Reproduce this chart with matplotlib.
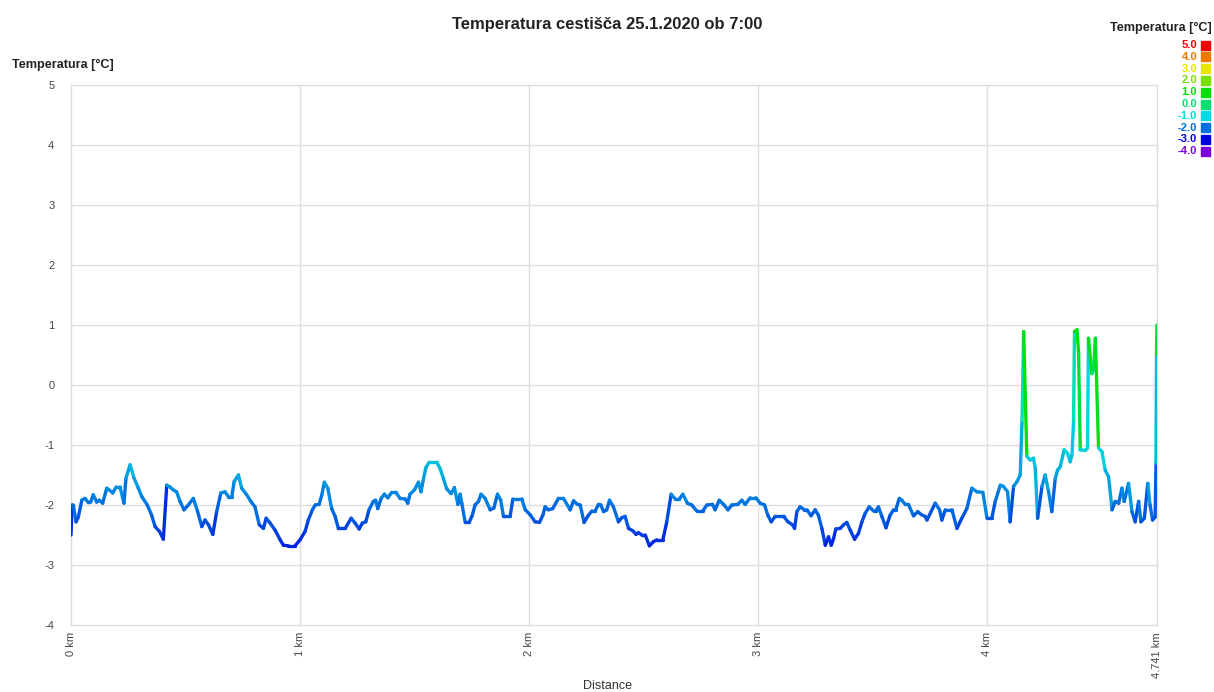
import numpy as np
import matplotlib.pyplot as plt
from matplotlib.collections import LineCollection
from matplotlib.colors import LinearSegmentedColormap, Normalize
from matplotlib.patches import Rectangle

plt.rcParams['font.family'] = ['Liberation Sans', 'DejaVu Sans']
plt.rcParams['axes.unicode_minus'] = False

# road surface temperature along the route
dist_km = [
    0.000, 0.005, 0.010, 0.022, 0.032, 0.047, 0.061, 0.076, 0.086, 0.097,
    0.112, 0.124, 0.138, 0.156, 0.167, 0.182, 0.197, 0.214, 0.231, 0.240,
    0.258, 0.275, 0.294, 0.309, 0.333, 0.352, 0.367, 0.386, 0.403, 0.418,
    0.432, 0.447, 0.461, 0.476, 0.493, 0.512, 0.534, 0.552, 0.571, 0.585,
    0.600, 0.619, 0.636, 0.654, 0.672, 0.687, 0.702, 0.712, 0.731, 0.745,
    0.767, 0.785, 0.803, 0.822, 0.840, 0.852, 0.869, 0.891, 0.913, 0.927,
    0.949, 0.978, 1.000, 1.022, 1.036, 1.054, 1.066, 1.083, 1.095, 1.106,
    1.121, 1.138, 1.153, 1.167, 1.197, 1.223, 1.240, 1.258, 1.272, 1.287,
    1.301, 1.320, 1.330, 1.339, 1.354, 1.368, 1.383, 1.400, 1.418, 1.437,
    1.459, 1.470, 1.480, 1.499, 1.517, 1.528, 1.539, 1.549, 1.563, 1.597,
    1.611, 1.626, 1.640, 1.659, 1.674, 1.689, 1.699, 1.706, 1.721, 1.738,
    1.752, 1.764, 1.779, 1.790, 1.808, 1.830, 1.846, 1.862, 1.876, 1.888,
    1.917, 1.929, 1.968, 1.983, 2.004, 2.026, 2.045, 2.060, 2.070, 2.084,
    2.103, 2.128, 2.150, 2.179, 2.194, 2.211, 2.223, 2.240, 2.259, 2.274,
    2.288, 2.303, 2.313, 2.325, 2.339, 2.351, 2.368, 2.390, 2.405, 2.419,
    2.434, 2.453, 2.467, 2.477, 2.492, 2.507, 2.525, 2.543, 2.558, 2.584,
    2.601, 2.620, 2.638, 2.656, 2.671, 2.691, 2.710, 2.732, 2.758, 2.776,
    2.801, 2.812, 2.830, 2.849, 2.868, 2.885, 2.911, 2.929, 2.943, 2.965,
    2.990, 3.009, 3.028, 3.042, 3.057, 3.074, 3.111, 3.130, 3.150, 3.159,
    3.169, 3.183, 3.202, 3.213, 3.231, 3.249, 3.263, 3.278, 3.293, 3.307,
    3.319, 3.329, 3.339, 3.358, 3.373, 3.387, 3.402, 3.421, 3.438, 3.453,
    3.467, 3.485, 3.504, 3.514, 3.525, 3.540, 3.558, 3.576, 3.591, 3.601,
    3.616, 3.627, 3.642, 3.656, 3.678, 3.697, 3.712, 3.729, 3.737, 3.773,
    3.792, 3.802, 3.817, 3.846, 3.868, 3.889, 3.911, 3.933, 3.955, 3.981,
    3.999, 4.020, 4.035, 4.057, 4.071, 4.089, 4.100, 4.115, 4.130, 4.144,
    4.152, 4.159, 4.173, 4.188, 4.202, 4.210, 4.220, 4.239, 4.253, 4.268,
    4.282, 4.297, 4.307, 4.319, 4.336, 4.351, 4.362, 4.370, 4.377, 4.381,
    4.392, 4.399, 4.406, 4.428, 4.438, 4.442, 4.457, 4.464, 4.472, 4.486,
    4.501, 4.515, 4.530, 4.545, 4.559, 4.574, 4.588, 4.598, 4.617, 4.632,
    4.646, 4.661, 4.671, 4.686, 4.701, 4.711, 4.722, 4.733, 4.737, 4.739,
    4.741,
]
temp_c = [
    -2.50, -2.00, -2.00, -2.28, -2.20, -1.92, -1.89, -1.96, -1.95, -1.83,
    -1.95, -1.92, -1.97, -1.72, -1.75, -1.80, -1.70, -1.70, -1.97, -1.55,
    -1.33, -1.55, -1.72, -1.86, -2.00, -2.17, -2.36, -2.44, -2.57, -1.67,
    -1.70, -1.75, -1.78, -1.94, -2.08, -2.00, -1.89, -2.10, -2.36, -2.25,
    -2.33, -2.49, -2.11, -1.80, -1.78, -1.86, -1.86, -1.61, -1.50, -1.72,
    -1.83, -1.94, -2.03, -2.33, -2.39, -2.22, -2.30, -2.42, -2.58, -2.67,
    -2.68, -2.68, -2.58, -2.44, -2.25, -2.08, -2.00, -1.99, -1.83, -1.62,
    -1.72, -2.06, -2.19, -2.39, -2.39, -2.22, -2.30, -2.40, -2.30, -2.28,
    -2.08, -1.94, -1.92, -2.06, -1.89, -1.82, -1.88, -1.79, -1.79, -1.89,
    -1.90, -1.97, -1.82, -1.75, -1.62, -1.78, -1.56, -1.38, -1.29, -1.29,
    -1.39, -1.56, -1.73, -1.81, -1.71, -1.99, -1.82, -1.97, -2.29, -2.29,
    -2.17, -2.00, -1.94, -1.82, -1.89, -2.08, -2.05, -1.82, -1.92, -2.19,
    -2.19, -1.90, -1.90, -2.08, -2.16, -2.28, -2.29, -2.17, -2.03, -2.08,
    -2.06, -1.89, -1.89, -2.08, -1.93, -1.99, -2.00, -2.29, -2.17, -2.10,
    -2.10, -1.99, -2.00, -2.11, -2.08, -1.92, -2.03, -2.28, -2.21, -2.19,
    -2.39, -2.43, -2.49, -2.46, -2.50, -2.50, -2.68, -2.61, -2.58, -2.58,
    -2.28, -1.82, -1.90, -1.90, -1.82, -1.97, -2.00, -2.10, -2.10, -2.00,
    -1.99, -2.08, -1.92, -1.99, -2.08, -2.00, -1.99, -1.92, -1.99, -1.88,
    -1.88, -1.97, -2.00, -2.17, -2.28, -2.19, -2.19, -2.28, -2.33, -2.39,
    -2.11, -2.03, -2.08, -2.08, -2.18, -2.08, -2.17, -2.39, -2.67, -2.53,
    -2.67, -2.56, -2.40, -2.39, -2.33, -2.29, -2.42, -2.57, -2.47, -2.28,
    -2.14, -2.03, -2.10, -2.10, -2.03, -2.19, -2.38, -2.17, -2.08, -2.08,
    -1.89, -1.92, -1.99, -1.99, -2.18, -2.11, -2.16, -2.19, -2.25, -1.97,
    -2.08, -2.25, -2.08, -2.08, -2.39, -2.22, -2.06, -1.72, -1.78, -1.79,
    -2.22, -2.22, -1.94, -1.67, -1.69, -1.78, -2.28, -1.69, -1.61, -1.50,
    -0.60, 0.89, -1.19, -1.25, -1.22, -1.39, -2.22, -1.69, -1.50, -1.78,
    -2.11, -1.56, -1.42, -1.36, -1.08, -1.14, -1.28, -1.17, -0.60, 0.89,
    0.92, 0.53, -1.08, -1.09, -1.05, 0.78, 0.19, 0.25, 0.78, -1.05,
    -1.11, -1.42, -1.53, -2.08, -1.94, -1.97, -1.72, -1.94, -1.64, -2.11,
    -2.28, -1.94, -2.28, -2.22, -1.64, -2.00, -2.25, -2.20, -1.30, 0.50,
    1.00,
]

# colour scale (legend on the right)
scale_values = [5.0, 4.0, 3.0, 2.0, 1.0, 0.0, -1.0, -2.0, -3.0, -4.0]
scale_colors = ['#f00000', '#f07800', '#e6e600', '#7ae000', '#00e000',
                '#00e070', '#00dde0', '#0070e0', '#0000e0', '#7a00e0']

x_ticks = [0, 1, 2, 3, 4, 4.741]
x_labels = ['0 km', '1 km', '2 km', '3 km', '4 km', '4.741 km']
y_ticks = list(range(-4, 6))

cmap = LinearSegmentedColormap.from_list(
    'temp', [((v + 4) / 9, c) for v, c in sorted(zip(scale_values, scale_colors))])
norm = Normalize(-4, 5)

fig = plt.figure(figsize=(12.14, 6.92), dpi=100)
ax = fig.add_axes([0.0585, 0.0968, 0.8945, 0.7804])

x = np.array(dist_km)
y = np.array(temp_c)
pts = np.column_stack([x, y]).reshape(-1, 1, 2)
segs = np.concatenate([pts[:-1], pts[1:]], axis=1)
lc = LineCollection(segs, colors=cmap(norm(y[:-1])), linewidths=2.4,
                    capstyle='round', joinstyle='round', zorder=3)
ax.add_collection(lc)

ax.set_xlim(0, 4.741)
ax.set_ylim(-4, 5)
ax.set_xticks(x_ticks)
ax.set_xticklabels(x_labels, rotation=90, va='top', ha='center')
ax.set_yticks(y_ticks)
ax.tick_params(axis='both', length=0, labelsize=8, colors='#444444')
ax.tick_params(axis='y', pad=12)
ax.tick_params(axis='x', pad=5)
ax.grid(True, color='#dddddd', linewidth=1)
for gl in ax.get_xgridlines() + ax.get_ygridlines():
    gl.set_clip_on(False)
for s in ax.spines.values():
    s.set_visible(False)

fig.text(0.5, 0.964, 'Temperatura cestišča 25.1.2020 ob 7:00', ha='center',
         va='center', fontsize=12, fontweight='bold', color='#222222')
fig.text(0.01, 1 - 65 / 692, 'Temperatura [°C]', ha='left', va='center',
         fontsize=9.1, fontweight='bold', color='#222222')
fig.text(0.5, 0.009, 'Distance', ha='center', va='center', fontsize=9,
         color='#333333')

# legend
fig.text(0.998, 1 - 28 / 692, 'Temperatura [°C]', ha='right', va='center',
         fontsize=9.1, fontweight='bold', color='#222222')
for i, (v, c) in enumerate(zip(scale_values, scale_colors)):
    yc = 1 - (45 + i * 11.8) / 692
    fig.text(1197 / 1214, yc, f'{v:.1f}', ha='right', va='center',
             fontsize=8, fontweight='bold', color=c)
    fig.patches.append(Rectangle((1201 / 1214, yc - 4.5 / 692), 9 / 1214, 9 / 692,
                                 transform=fig.transFigure, color=c))

fig.savefig('out.png', dpi=100)
